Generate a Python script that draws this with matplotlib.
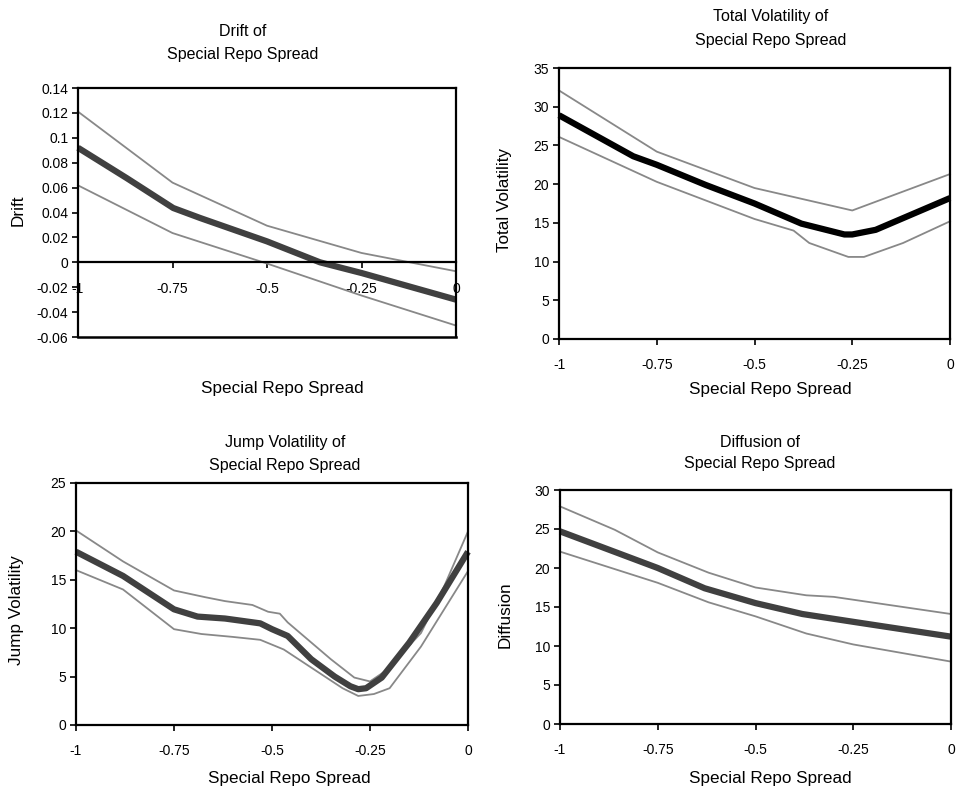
import numpy as np
import matplotlib
matplotlib.use("Agg")
import matplotlib.pyplot as plt

plt.rcParams['font.family'] = ['Liberation Sans', 'DejaVu Sans']

W, H = 956, 786

# drift
drift_x = [-1, -0.871, -0.748, -0.677, -0.5, -0.36, -0.25, 0]
drift_mid = [0.092, 0.0676, 0.0436, 0.0356, 0.0168, 0.0, -0.0086, -0.030]
drift_up_x = [-1, -0.75, -0.5, -0.25, 0]
drift_up = [0.121, 0.064, 0.0294, 0.0075, -0.0072]
drift_lo_x = [-1, -0.75, -0.5, -0.25, 0]
drift_lo = [0.0618, 0.0235, -0.001, -0.0267, -0.0508]

# total volatility
tot_x = [-1, -0.81, -0.75, -0.625, -0.5, -0.44, -0.38, -0.27, -0.25, -0.19, 0]
tot_mid = [28.9, 23.6, 22.5, 19.9, 17.5, 16.2, 14.9, 13.5, 13.5, 14.1, 18.2]
tot_up_x = [-1, -0.75, -0.5, -0.25, 0]
tot_up = [32.1, 24.2, 19.5, 16.6, 21.3]
tot_lo_x = [-1, -0.75, -0.5, -0.4, -0.36, -0.26, -0.22, -0.12, 0]
tot_lo = [26.1, 20.3, 15.5, 14.0, 12.4, 10.6, 10.6, 12.4, 15.2]

# jump volatility
jump_x = [-1, -0.88, -0.75, -0.69, -0.62, -0.53, -0.5, -0.46, -0.40, -0.34,
          -0.30, -0.28, -0.26, -0.22, -0.15, -0.08, 0]
jump_mid = [17.9, 15.4, 11.95, 11.2, 11.0, 10.5, 9.9, 9.2, 6.8, 5.0,
            4.0, 3.7, 3.8, 4.9, 8.5, 12.6, 17.9]
jump_up_x = [-1, -0.88, -0.75, -0.67, -0.62, -0.55, -0.51, -0.48, -0.46, -0.35,
             -0.29, -0.25, -0.21, -0.12, -0.06, 0]
jump_up = [20.1, 16.9, 13.9, 13.2, 12.8, 12.4, 11.7, 11.5, 10.6, 6.8,
           4.9, 4.5, 5.6, 9.5, 14.4, 20.0]
jump_lo_x = [-1, -0.88, -0.75, -0.68, -0.6, -0.53, -0.47, -0.38, -0.32, -0.28,
             -0.24, -0.20, -0.12, 0]
jump_lo = [16.0, 14.0, 9.9, 9.4, 9.1, 8.8, 7.8, 5.4, 3.8, 3.0,
           3.2, 3.8, 8.1, 15.9]

# diffusion
diff_x = [-1, -0.75, -0.63, -0.5, -0.38, -0.25, 0]
diff_mid = [24.7, 20.0, 17.4, 15.5, 14.1, 13.1, 11.2]
diff_up_x = [-1, -0.86, -0.75, -0.62, -0.5, -0.37, -0.3, 0]
diff_up = [27.9, 24.9, 22.0, 19.4, 17.5, 16.5, 16.3, 14.1]
diff_lo_x = [-1, -0.75, -0.62, -0.5, -0.37, -0.25, 0]
diff_lo = [22.1, 18.1, 15.6, 13.8, 11.6, 10.2, 8.0]

xticks = [-1, -0.75, -0.5, -0.25, 0]
xticklabels = ['-1', '-0.75', '-0.5', '-0.25', '0']

fig = plt.figure(figsize=(W / 100, H / 100), dpi=100)


def make_ax(l, t, r, b):
    return fig.add_axes([l / W, 1 - b / H, (r - l) / W, (b - t) / H])


def ftext(x, y, s, **kw):
    fig.text(x / W, 1 - y / H, s, ha='center', va='center', **kw)


def style(ax, ylim, yticks, yfmt):
    ax.set_xlim(-1, 0)
    ax.set_ylim(*ylim)
    ax.set_yticks(yticks)
    ax.set_yticklabels([yfmt(v) for v in yticks])
    ax.set_xticks(xticks)
    ax.set_xticklabels(xticklabels)
    ax.tick_params(direction='out', length=4, width=1.2, labelsize=10, pad=3)
    ax.tick_params(axis='x', pad=10)
    for sp in ax.spines.values():
        sp.set_linewidth(1.6)


def lines(ax, xm, ym, xu, yu, xl, yl, mc):
    ax.plot(xu, yu, color='#888888', lw=1.3, clip_on=False)
    ax.plot(xl, yl, color='#888888', lw=1.3, clip_on=False)
    ax.plot(xm, ym, color=mc, lw=4.5, clip_on=False, solid_capstyle='butt')


TSIZE = 11.5
LSIZE = 12.3

# Drift
ax1 = make_ax(78, 88, 456, 337)
style(ax1, (-0.06, 0.14), [-0.06, -0.04, -0.02, 0, 0.02, 0.04, 0.06, 0.08, 0.1, 0.12, 0.14],
      lambda v: '0' if abs(v) < 1e-9 else ('%g' % round(v, 2)))
ax1.spines['bottom'].set_position(('data', 0))
ax1.axhline(-0.06, color='black', lw=1.8, clip_on=False)
lines(ax1, drift_x, drift_mid, drift_up_x, drift_up, drift_lo_x, drift_lo, '#404040')
ftext(243, 31, 'Drift of', fontsize=TSIZE)
ftext(243, 54, 'Special Repo Spread', fontsize=TSIZE)
ftext(282, 388, 'Special Repo Spread', fontsize=LSIZE)
ftext(18, 210, 'Drift', fontsize=LSIZE, rotation=90)

# Total volatility
ax2 = make_ax(559, 68, 950, 339)
style(ax2, (0, 35), list(range(0, 36, 5)), lambda v: '%d' % v)
lines(ax2, tot_x, tot_mid, tot_up_x, tot_up, tot_lo_x, tot_lo, '#000000')
ftext(771, 17, 'Total Volatility of', fontsize=TSIZE)
ftext(771, 40, 'Special Repo Spread', fontsize=TSIZE)
ftext(770, 389, 'Special Repo Spread', fontsize=LSIZE)
ftext(505, 200, 'Total Volatility', fontsize=LSIZE, rotation=90)

# Jump volatility
ax3 = make_ax(76, 483, 468, 725)
style(ax3, (0, 25), list(range(0, 26, 5)), lambda v: '%d' % v)
lines(ax3, jump_x, jump_mid, jump_up_x, jump_up, jump_lo_x, jump_lo, '#404040')
ftext(285, 442, 'Jump Volatility of', fontsize=TSIZE)
ftext(285, 465, 'Special Repo Spread', fontsize=TSIZE)
ftext(289, 779, 'Special Repo Spread', fontsize=LSIZE)
ftext(17, 610, 'Jump Volatility', fontsize=LSIZE, rotation=90)

# Diffusion
ax4 = make_ax(560, 490, 951, 724)
style(ax4, (0, 30), list(range(0, 31, 5)), lambda v: '%d' % v)
lines(ax4, diff_x, diff_mid, diff_up_x, diff_up, diff_lo_x, diff_lo, '#404040')
ftext(760, 443, 'Diffusion of', fontsize=TSIZE)
ftext(760, 464, 'Special Repo Spread', fontsize=TSIZE)
ftext(770, 779, 'Special Repo Spread', fontsize=LSIZE)
ftext(505, 615, 'Diffusion', fontsize=LSIZE, rotation=90)

fig.savefig('out.png', dpi=100)
